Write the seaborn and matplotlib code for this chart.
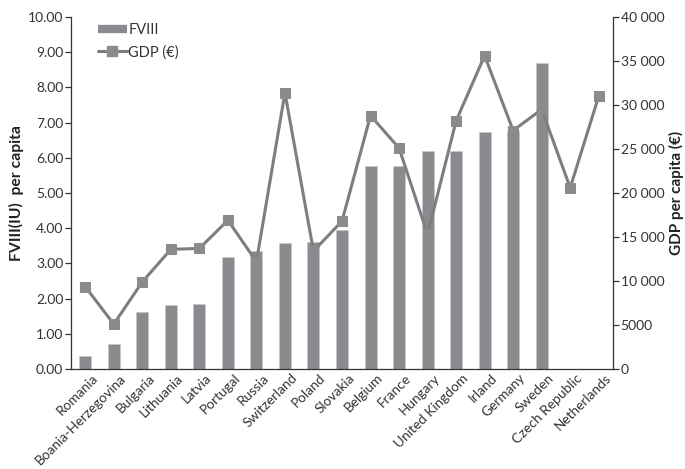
import numpy as np
import pandas as pd
import matplotlib
matplotlib.use("Agg")
import matplotlib.pyplot as plt
import matplotlib.transforms as mtransforms
from matplotlib.ticker import FuncFormatter, MultipleLocator, FixedLocator
from matplotlib.lines import Line2D
import seaborn as sns

countries = ["Romania", "Boania-Herzegovina", "Bulgaria", "Lithuania", "Latvia",
             "Portugal", "Russia", "Switzerland", "Poland", "Slovakia", "Belgium",
             "France", "Hungary", "United Kingdom", "Irland", "Germany", "Sweden",
             "Czech Republic", "Netherlands"]
fviii = [0.37, 0.71, 1.61, 1.82, 1.86, 3.18, 3.35, 3.58, 3.60, 3.95, 5.78,
         5.78, 6.19, 6.19, 6.74, 6.77, 8.70, np.nan, np.nan]
gdp = [9350, 5100, 9900, 13600, 13700, 16900, 12200, 31400, 13400, 16800, 28800,
       25100, 15300, 28200, 35600, 27100, 29500, 20600, 31000]

sns.set_theme(style="white")
plt.rcParams['font.family'] = ['Lato', 'DejaVu Sans']

BAR = "#8b8b8f"
LINE = "#7e7e81"
TXT = "#333333"
FS = 10.0

df = pd.DataFrame({"country": countries, "fviii": fviii, "gdp": gdp})

fig = plt.figure(figsize=(6.85, 4.69), dpi=100)
ax = fig.add_axes([71/685, 1 - 369/469, (613-71)/685, (369-17)/469])

sns.barplot(data=df, x="country", y="fviii", color=BAR, saturation=1,
            width=0.42, ax=ax, edgecolor="#c8c8ca", linewidth=0.4)
ax.set_xlim(-0.5, len(countries) - 0.5)
ax.set_ylim(0, 10)
ax.yaxis.set_major_locator(MultipleLocator(1))
ax.yaxis.set_major_formatter(FuncFormatter(lambda v, p: f"{v:.2f}"))
ax.set_ylabel("FVIII(IU)  per capita", fontsize=11.3, fontweight="bold",
              color="#222222", labelpad=3)
ax.set_xlabel("")

ax2 = ax.twinx()
sns.lineplot(x=np.arange(len(countries)), y=gdp, ax=ax2, color=LINE,
             linewidth=2.2, marker="s", markersize=7, markerfacecolor=BAR,
             markeredgecolor=BAR)
ax2.set_ylim(0, 40000)
ax2.yaxis.set_major_locator(MultipleLocator(5000))
def fmt(v, p):
    v = int(round(v))
    if v >= 10000:
        return f"{v:,}".replace(",", " ")
    return str(v)
ax2.yaxis.set_major_formatter(FuncFormatter(fmt))
ax2.set_ylabel("GDP per capita (€)", fontsize=11, fontweight="bold",
               color="#222222", labelpad=3)
ax2.set_xlim(-0.5, len(countries) - 0.5)

for a in (ax, ax2):
    a.spines["top"].set_visible(False)
    for s in ("left", "right", "bottom"):
        a.spines[s].set_color("#333333")
        a.spines[s].set_linewidth(0.9)
    a.tick_params(axis="y", labelsize=FS, labelcolor=TXT, length=4,
                  width=0.9, color="#333333", pad=1.5)

ax.spines["right"].set_visible(False)
ax2.spines["left"].set_visible(False)
ax2.spines["bottom"].set_visible(False)
ax.yaxis.set_ticks_position("left")

# x ticks: labels at centers, tick marks at category boundaries
ax.set_xticks(np.arange(len(countries)))
ax.set_xticklabels(countries, rotation=45, ha="right", rotation_mode="anchor")
ax.tick_params(axis="x", which="major", length=0, labelsize=9.8,
               labelcolor=TXT, pad=2)
ax.xaxis.set_minor_locator(FixedLocator(np.arange(-0.5, len(countries), 1.0)))
ax.tick_params(axis="x", which="minor", length=4, width=0.9, color="#333333",
               direction="out")
offset = mtransforms.ScaledTranslation(6/100, 0, fig.dpi_scale_trans)
for lab in ax.get_xticklabels():
    lab.set_transform(lab.get_transform() + offset)

handles = [Line2D([0], [0], color=BAR, linewidth=6, solid_capstyle="butt"),
           Line2D([0], [0], color=LINE, linewidth=2.2, marker="s",
                  markersize=7, markerfacecolor=BAR, markeredgecolor=BAR)]
ax.legend(handles, ["FVIII", "GDP (€)"], loc="upper left",
          bbox_to_anchor=(0.025, 1.02), frameon=False, fontsize=10.5,
          handlelength=2.0, handletextpad=0.1, labelspacing=0.55,
          labelcolor=TXT)

fig.savefig("out.png", dpi=100)
